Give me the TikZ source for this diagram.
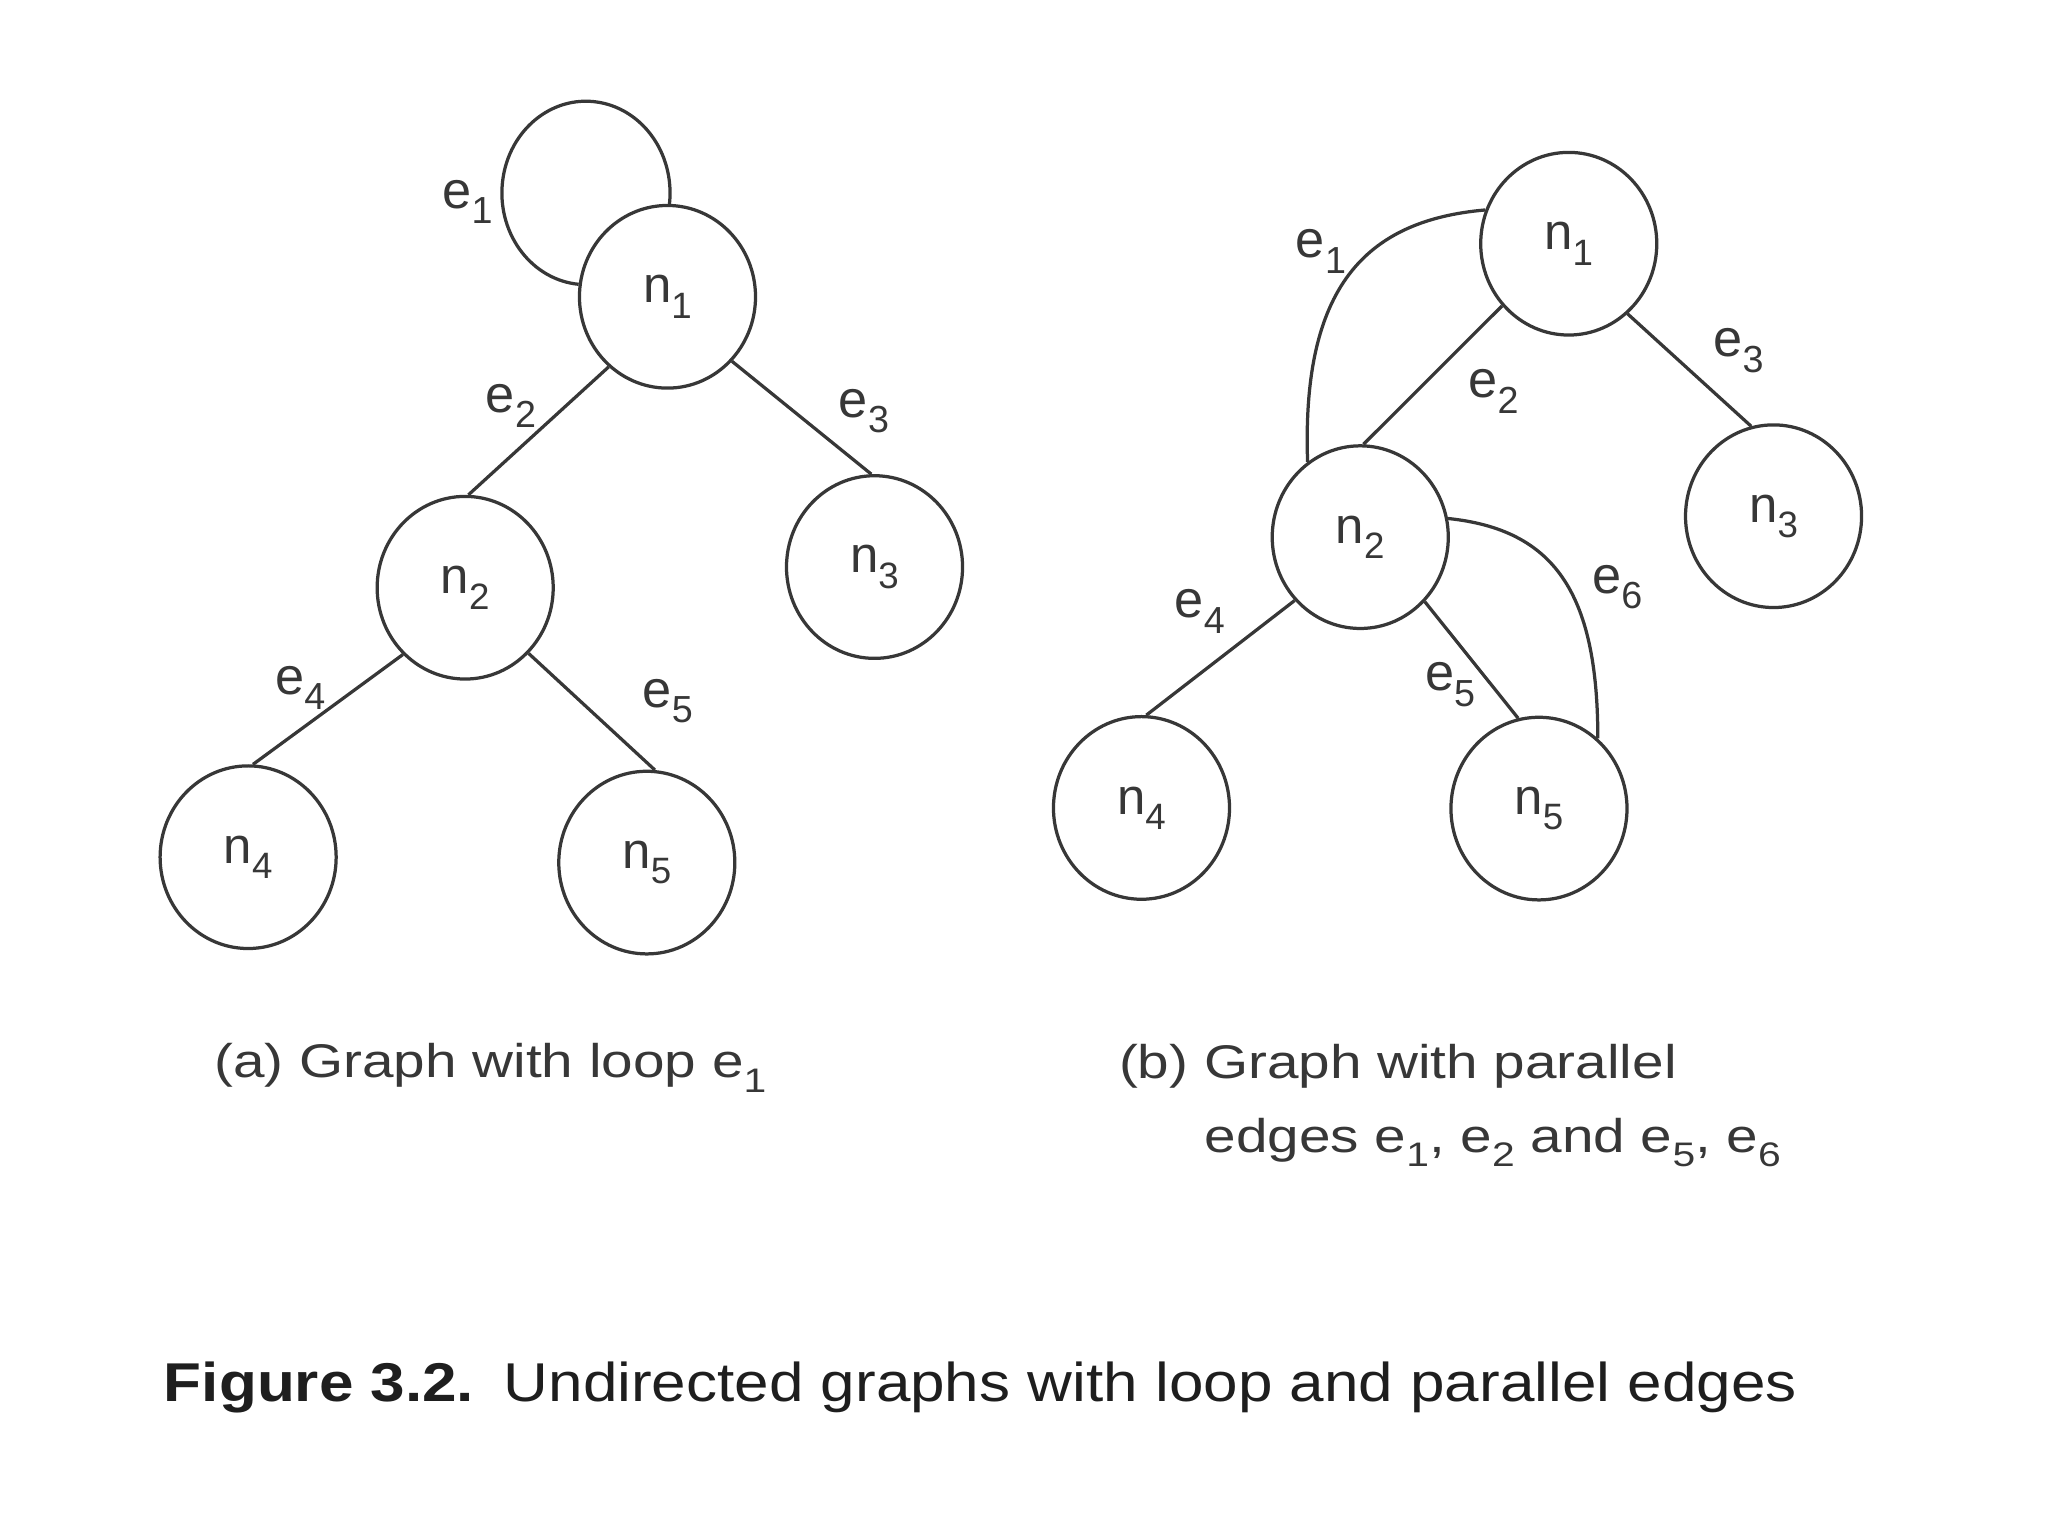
\documentclass[tikz,border=0pt]{standalone}
\usepackage{fontspec}
\setmainfont{Liberation Sans}
\newfontfamily\capfont[FakeStretch=1.2]{Liberation Sans}
\newfontfamily\figfont[FakeStretch=1.135]{Liberation Sans}
\usepackage{graphicx}
\usetikzlibrary{shapes.geometric,backgrounds}
\definecolor{ink}{RGB}{55,55,55}
\definecolor{capink}{RGB}{30,30,30}
\newcommand{\mysub}[1]{\raisebox{-0.3em}{\scalebox{0.72}{#1}}}
\begin{document}
\begin{tikzpicture}[x=0.01cm, y=0.01cm,
  gnode/.style={ellipse, draw=ink, line width=0.7pt, fill=white,
    minimum width=1.336cm, minimum height=1.386cm, inner sep=0pt,
    font=\fontsize{11}{13}\selectfont, text=ink},
  elabel/.style={inner sep=0pt, font=\fontsize{11.3}{13}\selectfont, text=ink},
  conn/.style={draw=ink, line width=0.7pt},
  subcap/.style={anchor=base west, inner sep=0pt, font=\capfont\fontsize{10.2}{12}\selectfont, text=ink},
  figcap/.style={anchor=base west, inner sep=0pt, font=\figfont\fontsize{11.8}{14}\selectfont, text=capink}]
\useasboundingbox (0,0) rectangle (1555,1166.25);

% ---------- graph (a) ----------
\node[gnode] (n1a) at (506.8,940.9) {n\mysub{1}};
\node[gnode] (n2a) at (353.2,720.0) {n\mysub{2}};
\node[gnode] (n3a) at (664.0,735.7) {n\mysub{3}};
\node[gnode] (n4a) at (188.4,515.4) {n\mysub{4}};
\node[gnode] (n5a) at (491.1,511.3) {n\mysub{5}};

\node[elabel] (la1) at (355,1013) {e\mysub{1}};
\node[elabel] (la2) at (388,858) {e\mysub{2}};
\node[elabel] (la3) at (656,854) {e\mysub{3}};
\node[elabel] (la4) at (228,644) {e\mysub{4}};
\node[elabel] (la5) at (507,634) {e\mysub{5}};

% ---------- graph (b) ----------
\node[gnode] (n1b) at (1191.1,981.2) {n\mysub{1}};
\node[gnode] (n2b) at (1032.8,758.4) {n\mysub{2}};
\node[gnode] (n3b) at (1346.6,774.3) {n\mysub{3}};
\node[gnode] (n4b) at (866.7,552.8) {n\mysub{4}};
\node[gnode] (n5b) at (1168.5,552.3) {n\mysub{5}};

\node[elabel] (lb1) at (1003,975.5) {e\mysub{1}};
\node[elabel] (lb2) at (1134,869) {e\mysub{2}};
\node[elabel] (lb3) at (1320,900) {e\mysub{3}};
\node[elabel] (lb4) at (911,702) {e\mysub{4}};
\node[elabel] (lb5) at (1101,646.6) {e\mysub{5}};
\node[elabel] (lb6) at (1228,720.5) {e\mysub{6}};

% ---------- connectors ----------
\begin{pgfonlayer}{background}
  \draw[conn] (n1a.172) arc[start angle=265, end angle=-7.5, x radius=0.638cm, y radius=0.696cm];
  \draw[conn] (n1a.230) -- (n2a.88);
  \draw[conn] (n1a.315) -- (n3a.92);
  \draw[conn] (n2a.227) -- (n4a.87);
  \draw[conn] (n2a.314) -- (n5a.85);

  \draw[conn] (n1b.158) to[out=185, in=92, out distance=0.92cm, in distance=1.32cm] (n2b.125);
  \draw[conn] (n1b.223) -- (n2b.88);
  \draw[conn] (n1b.310) -- (n3b.104);
  \draw[conn] (n2b.224) -- (n4b.87);
  \draw[conn] (n2b.315) -- (n5b.103);
  \draw[conn] (n2b.12) to[out=-6, in=90, out distance=0.8cm, in distance=1.12cm] (n5b.50);
\end{pgfonlayer}

% ---------- captions ----------
\node[subcap] (capa) at (162,347.8) {(a) Graph with loop e\mysub{1}};
\node[subcap] (capb1) at (849,347.2) {(b) Graph with parallel};
\node[subcap] (capb2) at (914,291.4) {edges e\mysub{1}, e\mysub{2} and e\mysub{5}, e\mysub{6}};
\node[figcap] (cap) at (123.8,102) {\textbf{Figure 3.2.}\hspace{0.12em} Undirected graphs with loop and parallel edges};
\end{tikzpicture}
\end{document}
